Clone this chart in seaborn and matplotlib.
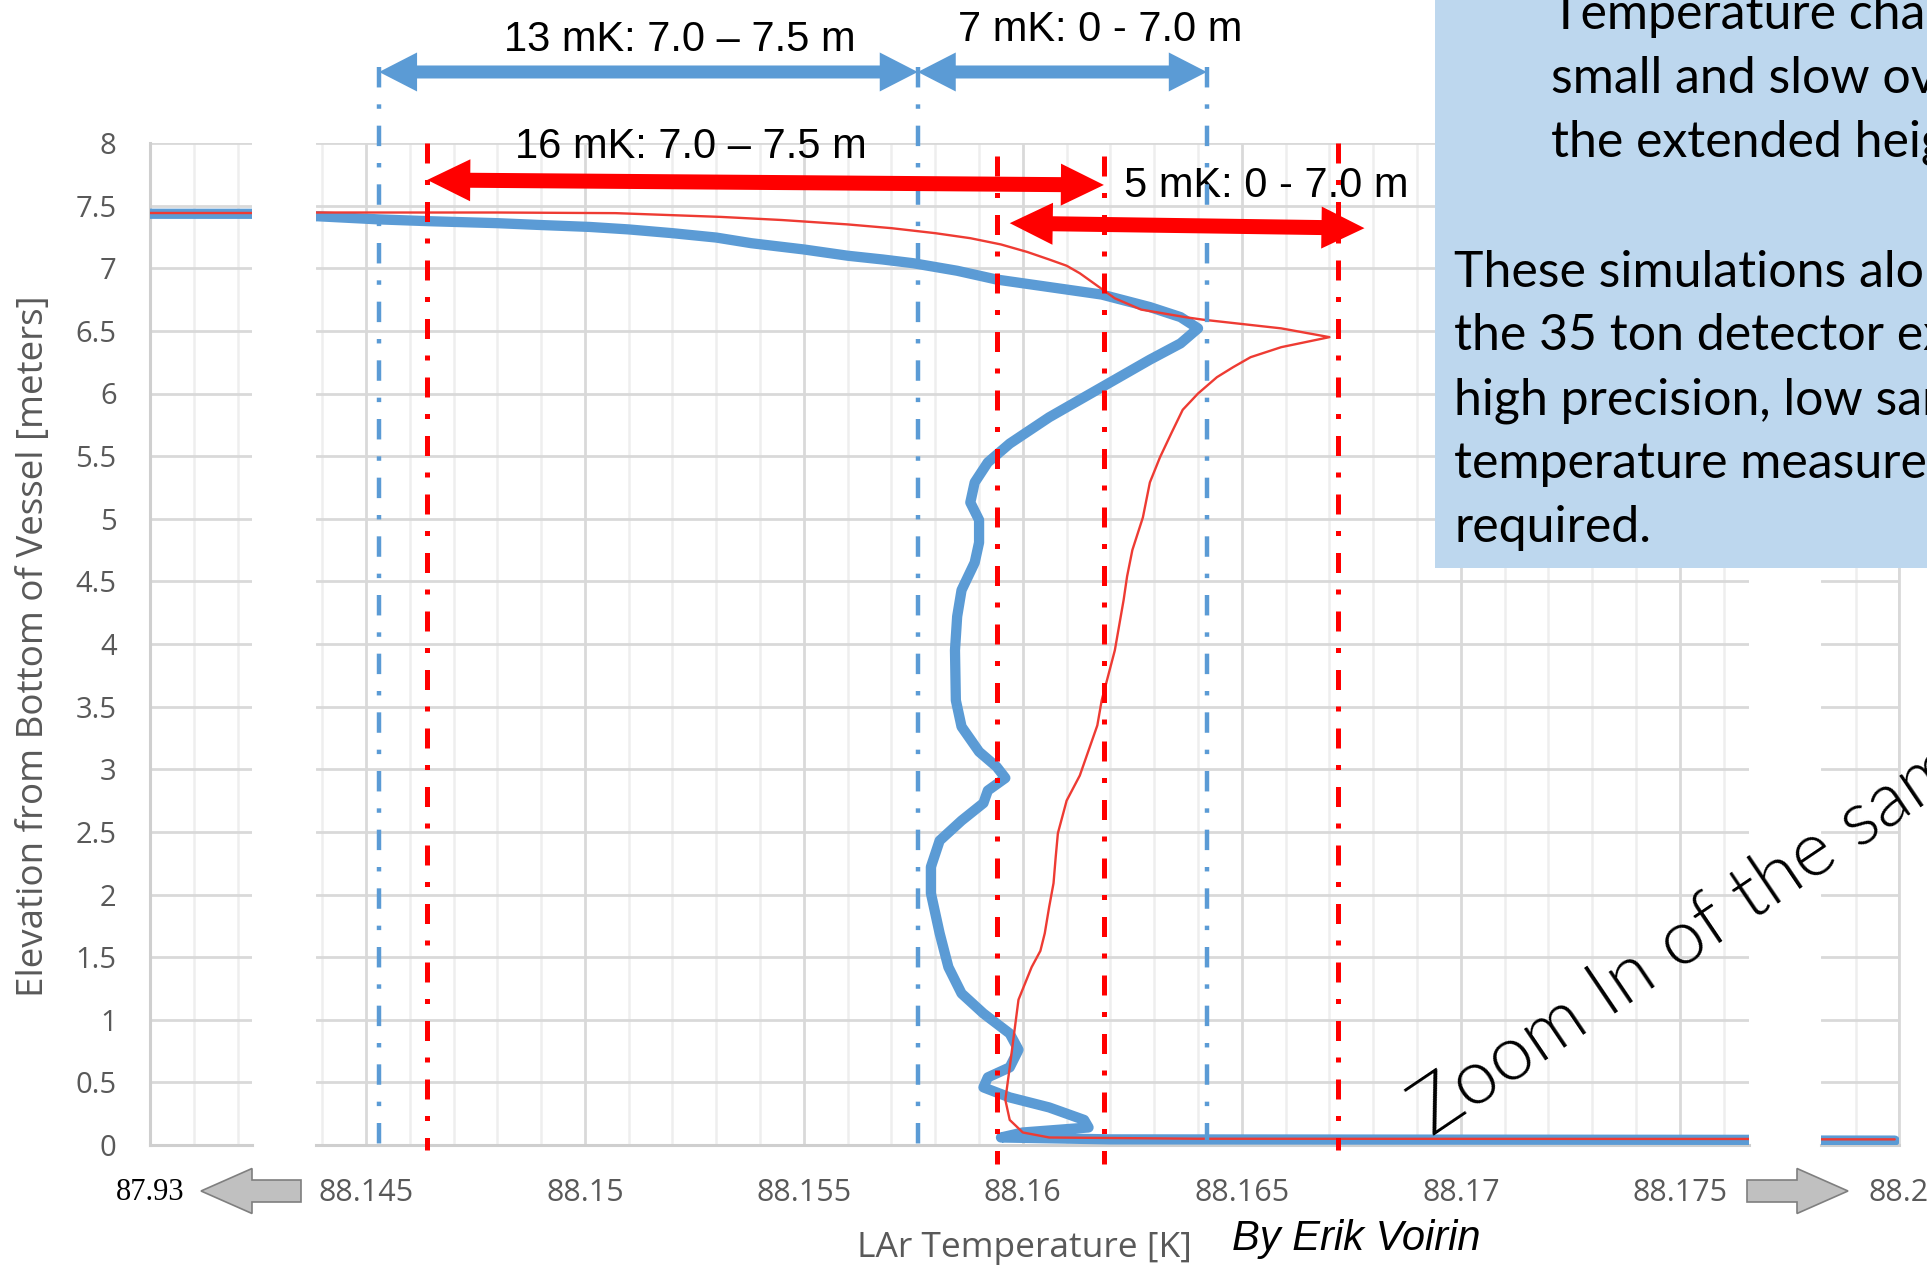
import numpy as np
import matplotlib
matplotlib.use("Agg")
import matplotlib.pyplot as plt
from matplotlib import transforms as mtransforms
from matplotlib.patches import Polygon, Rectangle
from matplotlib.ticker import MultipleLocator, FixedLocator
import seaborn as sns

# ------------------------------------------------------------------
# Data: simulated LAr temperature profiles (temperature [K], elevation [m])
# ------------------------------------------------------------------
blue_temp = [87.9300, 88.1439, 88.1453, 88.1465, 88.1480, 88.1490, 88.1501, 88.1510,
             88.1520, 88.1530, 88.1538, 88.1550, 88.1560, 88.1568, 88.1575, 88.1585,
             88.1594, 88.1606, 88.1618, 88.1629, 88.1636, 88.1640, 88.1636, 88.1629,
             88.1618, 88.1606, 88.1597, 88.1592, 88.1589, 88.1588, 88.1590, 88.1590,
             88.1589, 88.1586, 88.1585, 88.15845, 88.15847, 88.1586, 88.1590, 88.1594,
             88.1596, 88.1592, 88.1591, 88.1586, 88.1581, 88.1579, 88.1579, 88.1581,
             88.1583, 88.1586, 88.1591, 88.1597, 88.1599, 88.1597, 88.1592, 88.1591,
             88.1597, 88.1606, 88.1614, 88.1615, 88.1600, 88.1595, 88.1620, 88.1999]
blue_elev = [7.435, 7.415, 7.39, 7.375, 7.36, 7.345, 7.33, 7.31,
             7.28, 7.245, 7.20, 7.15, 7.10, 7.07, 7.04, 6.98,
             6.91, 6.85, 6.79, 6.69, 6.61, 6.52, 6.40, 6.27,
             6.05, 5.81, 5.60, 5.45, 5.29, 5.13, 4.99, 4.81,
             4.65, 4.43, 4.22, 3.95, 3.55, 3.34, 3.14, 3.02,
             2.93, 2.83, 2.73, 2.59, 2.43, 2.22, 2.01, 1.69,
             1.42, 1.21, 1.05, 0.89, 0.76, 0.62, 0.54, 0.46,
             0.38, 0.30, 0.20, 0.14, 0.10, 0.06, 0.045, 0.035]

red_temp = [87.9300, 88.1439, 88.1480, 88.1507, 88.1531, 88.1545, 88.1560, 88.1570,
            88.1580, 88.1588, 88.1595, 88.1601, 88.1606, 88.1610, 88.1613, 88.1617,
            88.1621, 88.1627, 88.1637, 88.1641, 88.1659, 88.1670, 88.1659, 88.1652,
            88.1648, 88.16443, 88.1640, 88.16365, 88.1634, 88.16313, 88.1629, 88.16274,
            88.1625, 88.16238, 88.1623, 88.1621, 88.1618, 88.1617, 88.1615, 88.1613,
            88.1610, 88.1609, 88.1608, 88.16075, 88.1607, 88.1606, 88.1605, 88.1604,
            88.1602, 88.1599, 88.1598, 88.1597, 88.1596, 88.1597, 88.1600, 88.1606,
            88.1640, 88.1999]
red_elev = [7.445, 7.445, 7.445, 7.44, 7.41, 7.385, 7.35, 7.32,
            7.28, 7.24, 7.19, 7.13, 7.07, 7.02, 6.96, 6.86,
            6.76, 6.67, 6.61, 6.59, 6.52, 6.45, 6.37, 6.29,
            6.21, 6.13, 6.00, 5.87, 5.69, 5.49, 5.29, 5.01,
            4.75, 4.54, 4.35, 3.95, 3.55, 3.35, 3.15, 2.95,
            2.75, 2.62, 2.49, 2.30, 2.09, 1.90, 1.69, 1.55,
            1.42, 1.16, 0.89, 0.62, 0.36, 0.20, 0.10, 0.06,
            0.05, 0.045]

elev_ticks = [0, 0.5, 1, 1.5, 2, 2.5, 3, 3.5, 4, 4.5, 5, 5.5, 6, 6.5, 7, 7.5, 8]
elev_labels = ["0", "0.5", "1", "1.5", "2", "2.5", "3", "3.5", "4", "4.5",
               "5", "5.5", "6", "6.5", "7", "7.5", "8"]
temp_ticks = [88.145, 88.15, 88.155, 88.16, 88.165, 88.17, 88.175]
temp_labels = ["88.145", "88.15", "88.155", "88.16", "88.165", "88.17", "88.175"]
low_tick, low_label = 87.93, "87.93"
high_tick, high_label = 88.2, "88.2"

# temperature spread markers
blue_marks = [88.1453, 88.1576, 88.1642]
red_outer_marks = [88.1464, 88.1672]
red_inner_marks = [88.1594, 88.16185]
blue_spans = [(88.1453, 88.1576), (88.1576, 88.1642)]
blue_span_elev = 8.567
red_spans = [((88.1464, 7.705), (88.16185, 7.665)),
             ((88.1597, 7.36), (88.1678, 7.32))]
span_texts = ["13 mK: 7.0 \u2013 7.5 m", "7 mK: 0 - 7.0 m",
              "16 mK: 7.0 \u2013 7.5 m", "5 mK: 0 - 7.0 m"]

note_lines_top = ["Temperature chan", "small and slow over", "the extended height"]
note_lines_bottom = ["These simulations along", "the 35 ton detector exp",
                     "high precision, low sam", "temperature measurem", "required."]

# ------------------------------------------------------------------
BLUE = "#5B9BD5"
RED_LINE = "#EE3B33"
RED = "#FF0000"
GRID_MAJOR = "#D9D9D9"
GRID_MINOR = "#EEEEEE"
TICK_COLOR = "#595959"

sns.set_theme(style="white")
plt.rcParams["font.family"] = ["Open Sans", "DejaVu Sans"]

W, H, DPI = 1927, 1268, 100
fig = plt.figure(figsize=(W / DPI, H / DPI), dpi=DPI)
fig.patch.set_facecolor("white")

# pixel (top-left origin) -> figure transform
PX = mtransforms.Affine2D().scale(1.0 / W, -1.0 / H).translate(0, 1) + fig.transFigure


def rect_px(x0, y0, x1, y1):
    return [x0 / W, 1 - y1 / H, (x1 - x0) / W, (y1 - y0) / H]


ax_left = fig.add_axes(rect_px(150, 143, 252, 1145))
ax_main = fig.add_axes(rect_px(316, 143, 1749, 1145))
ax_right = fig.add_axes(rect_px(1821, 143, 1899, 1145))
axes = [ax_left, ax_main, ax_right]

for ax in axes:
    ax.set_facecolor("white")
    sns.lineplot(x=blue_temp, y=blue_elev, sort=False, estimator=None, ax=ax,
                 color=BLUE, lw=7.4, solid_capstyle="round",
                 solid_joinstyle="round", zorder=3)
    sns.lineplot(x=red_temp, y=red_elev, sort=False, estimator=None, ax=ax,
                 color=RED_LINE, lw=1.7, solid_joinstyle="round", zorder=4)
    ax.set_ylim(0, 8)
    ax.yaxis.set_major_locator(FixedLocator(elev_ticks))
    ax.xaxis.set_minor_locator(MultipleLocator(0.001))
    ax.set_axisbelow(True)
    ax.grid(axis="y", which="major", color=GRID_MAJOR, lw=2.0)
    ax.grid(axis="x", which="minor", color=GRID_MINOR, lw=1.8)
    ax.grid(axis="x", which="major", color=GRID_MAJOR, lw=2.0)
    for s in ax.spines.values():
        s.set_visible(False)
    ax.spines["bottom"].set_visible(True)
    ax.spines["bottom"].set_color("#CFCFCF")
    ax.spines["bottom"].set_linewidth(2.2)
    ax.tick_params(axis="both", which="both", length=0, labelsize=22,
                   labelcolor=TICK_COLOR, pad=24)
    ax.tick_params(axis="y", labelleft=False)
    ax.set_xlabel("")
    ax.set_ylabel("")

# left break panel (cold surface)
ax_left.set_xlim(87.93, 87.93233)
ax_left.set_xticks([low_tick])
ax_left.set_xticklabels([low_label])
for lbl in ax_left.get_xticklabels():
    lbl.set_fontfamily("Liberation Serif")
    lbl.set_color("black")
    lbl.set_fontsize(22)
ax_left.spines["left"].set_visible(True)
ax_left.spines["left"].set_color("#CFCFCF")
ax_left.spines["left"].set_linewidth(2.2)
ax_left.tick_params(axis="y", labelleft=True, pad=24, labelsize=21)
ax_left.set_yticklabels(elev_labels)

# main panel
ax_main.set_xlim(88.14386, 88.17658)
ax_main.set_xticks(temp_ticks)
ax_main.set_xticklabels(temp_labels)

# right break panel (warm bottom)
ax_right.set_xlim(88.19817, 88.2)
ax_right.set_xticks([high_tick])
ax_right.set_xticklabels([high_label])
ax_right.spines["right"].set_visible(True)
ax_right.spines["right"].set_color(GRID_MAJOR)
ax_right.spines["right"].set_linewidth(2.0)

# vertical spread markers
for x in blue_marks:
    ax_main.plot([x, x], [8.61, 0.0], color=BLUE, lw=3.2, clip_on=False,
                 dashes=(4.6, 3.8, 1.0, 3.8), zorder=6)
for x in red_outer_marks:
    ax_main.plot([x, x], [8.0, -0.04], color=RED, lw=3.6, clip_on=False,
                 dashes=(4, 3.3, 1, 3.4), zorder=6)
for x in red_inner_marks:
    ax_main.plot([x, x], [7.9, -0.15], color=RED, lw=3.6, clip_on=False,
                 dashes=(4, 3.3, 1, 3.4), zorder=6)


def double_arrow(p0, p1, head_len, head_half, shaft_half):
    p0 = np.asarray(p0, float)
    p1 = np.asarray(p1, float)
    d = p1 - p0
    u = d / np.hypot(*d)
    n = np.array([-u[1], u[0]])
    a = p0 + u * head_len
    b = p1 - u * head_len
    return np.array([p0, a + n * head_half, a + n * shaft_half, b + n * shaft_half,
                     b + n * head_half, p1, b - n * head_half, b - n * shaft_half,
                     a - n * shaft_half, a - n * head_half])


ident = mtransforms.IdentityTransform()
for t0, t1 in blue_spans:
    p0 = ax_main.transData.transform((t0, blue_span_elev))
    p1 = ax_main.transData.transform((t1, blue_span_elev))
    fig.add_artist(Polygon(double_arrow(p0, p1, 38, 19.5, 6.5), closed=True,
                           facecolor=BLUE, edgecolor="none", transform=ident, zorder=2))
for (t0, e0), (t1, e1) in red_spans:
    p0 = ax_main.transData.transform((t0, e0))
    p1 = ax_main.transData.transform((t1, e1))
    fig.add_artist(Polygon(double_arrow(p0, p1, 43, 21, 7.5), closed=True,
                           facecolor=RED, edgecolor="none", transform=ident, zorder=2))


def block_arrow(tail_x, tip_x, yc, head_len, head_half, shaft_half):
    s = np.sign(tip_x - tail_x)
    base = tip_x - s * head_len
    pts = [(tail_x, yc - shaft_half), (base, yc - shaft_half), (base, yc - head_half),
           (tip_x, yc), (base, yc + head_half), (base, yc + shaft_half),
           (tail_x, yc + shaft_half)]
    return Polygon(pts, closed=True, facecolor="#C0C0C0", edgecolor="#7F7F7F",
                   lw=1.2, transform=PX, zorder=2)


fig.add_artist(block_arrow(301, 201, 1191, 51, 22.5, 11))
fig.add_artist(block_arrow(1747, 1848, 1191, 51, 22.5, 11))

# spread labels
ann_font = dict(family="Liberation Sans", size=30, color="black", ha="center",
                va="center", transform=PX, zorder=2)
ax_main.text(680, 40, span_texts[0], **ann_font)
ax_main.text(1100, 30, span_texts[1], **ann_font)
ax_main.text(691, 147, span_texts[2], **ann_font)
ax_main.text(1266, 186, span_texts[3], **ann_font)

# axis titles and credit
fig.text(34, 646, "Elevation from Bottom of Vessel [meters]", rotation=90,
         ha="center", va="center", fontsize=26.5, color=TICK_COLOR, transform=PX)
fig.text(1024, 1248, "LAr Temperature [K]", ha="center", va="center",
         fontsize=25.5, color=TICK_COLOR, transform=PX)
fig.text(1356, 1239, "By Erik Voirin", ha="center", va="center",
         family="Liberation Sans", style="italic", fontsize=30, color="black",
         transform=PX)

# note box
box = Rectangle((1435 / W, 1 - 568 / H), (W - 1435) / W, 568 / H,
                transform=fig.transFigure, facecolor="#BDD7EE", edgecolor="none",
                zorder=1)
fig.add_artist(box)
for i, line in enumerate(note_lines_top):
    t = fig.text(1551, 29 + 64 * i, line, ha="left", va="baseline", family="Lato",
                 fontsize=36, color="black", transform=PX, zorder=3)
    t.set_clip_path(box)
for i, line in enumerate(note_lines_bottom):
    t = fig.text(1454, 286 + 64 * i, line, ha="left", va="baseline", family="Lato",
                 fontsize=36, color="black", transform=PX, zorder=3)
    t.set_clip_path(box)

# zoom caption
fig.text(1432, 1137, "Zoom In of the same", rotation=34, rotation_mode="anchor",
         ha="left", va="baseline", family="Lato", fontweight=300, fontsize=55,
         color="black", transform=PX, zorder=3)

fig.savefig("out.png", dpi=DPI, facecolor="white")
